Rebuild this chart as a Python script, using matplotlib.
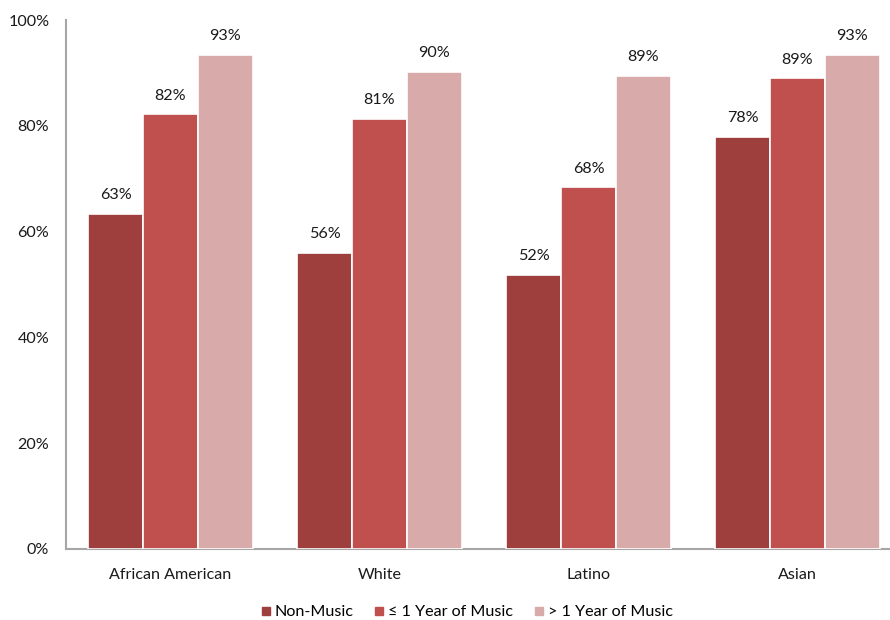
import numpy as np
import matplotlib
matplotlib.use("Agg")
import matplotlib.pyplot as plt
from matplotlib.lines import Line2D

# ----------------------------------
# Data
# ----------------------------------
groups     = ["African American", "White", "Latino", "Asian"]
series     = ["Non-Music", "\u2264 1 Year of Music", "> 1 Year of Music"]
non_music  = [63.4, 56.0, 51.8, 77.9]
le_one     = [82.2, 81.3, 68.4, 89.0]
gt_one     = [93.4, 90.2, 89.4, 93.4]
y_ticks    = [0, 20, 40, 60, 80, 100]

colors = ["#9E3F3E", "#C0504D", "#D9AAAA"]

plt.rcParams["font.family"] = ["Lato", "DejaVu Sans"]
FS = 11.6

fig = plt.figure(figsize=(8.9, 6.2), dpi=100)
ax = fig.add_axes([66 / 890, 71 / 620, 836 / 890, 529 / 620])

x = np.arange(len(groups))
width = 0.263
offsets = [-width, 0, width]

for vals, off, col in zip([non_music, le_one, gt_one], offsets, colors):
    bars = ax.bar(x + off, vals, width, color=col, edgecolor="white", linewidth=1.2, zorder=3)
    for b, v in zip(bars, vals):
        ax.text(b.get_x() + b.get_width() / 2, v + 2.2, f"{v:.0f}%",
                ha="center", va="bottom", fontsize=FS, color="#1a1a1a")

ax.set_xlim(-0.5, len(groups) - 0.5)
ax.set_ylim(0, 100)
ax.set_yticks(y_ticks)
ax.set_yticklabels([f"{t}%" for t in y_ticks])
ax.set_xticks(x)
ax.set_xticklabels(groups)
ax.tick_params(axis="both", length=0, labelsize=FS, colors="#1a1a1a")
ax.tick_params(axis="y", pad=12)
ax.tick_params(axis="x", pad=14)

for s in ["top", "right"]:
    ax.spines[s].set_visible(False)
for s in ["left", "bottom"]:
    ax.spines[s].set_color("#A6A6A6")
    ax.spines[s].set_linewidth(1.5)

handles = [Line2D([0], [0], marker="s", linestyle="", markersize=6,
                  markerfacecolor=c, markeredgecolor=c) for c in colors]
fig.legend(handles, series, loc="center", bbox_to_anchor=(466 / 890, 1 - 612 / 620),
           ncol=3, frameon=False, fontsize=FS, handletextpad=0.15,
           columnspacing=1.2, handlelength=0.8)

fig.savefig("out.png", dpi=100)
